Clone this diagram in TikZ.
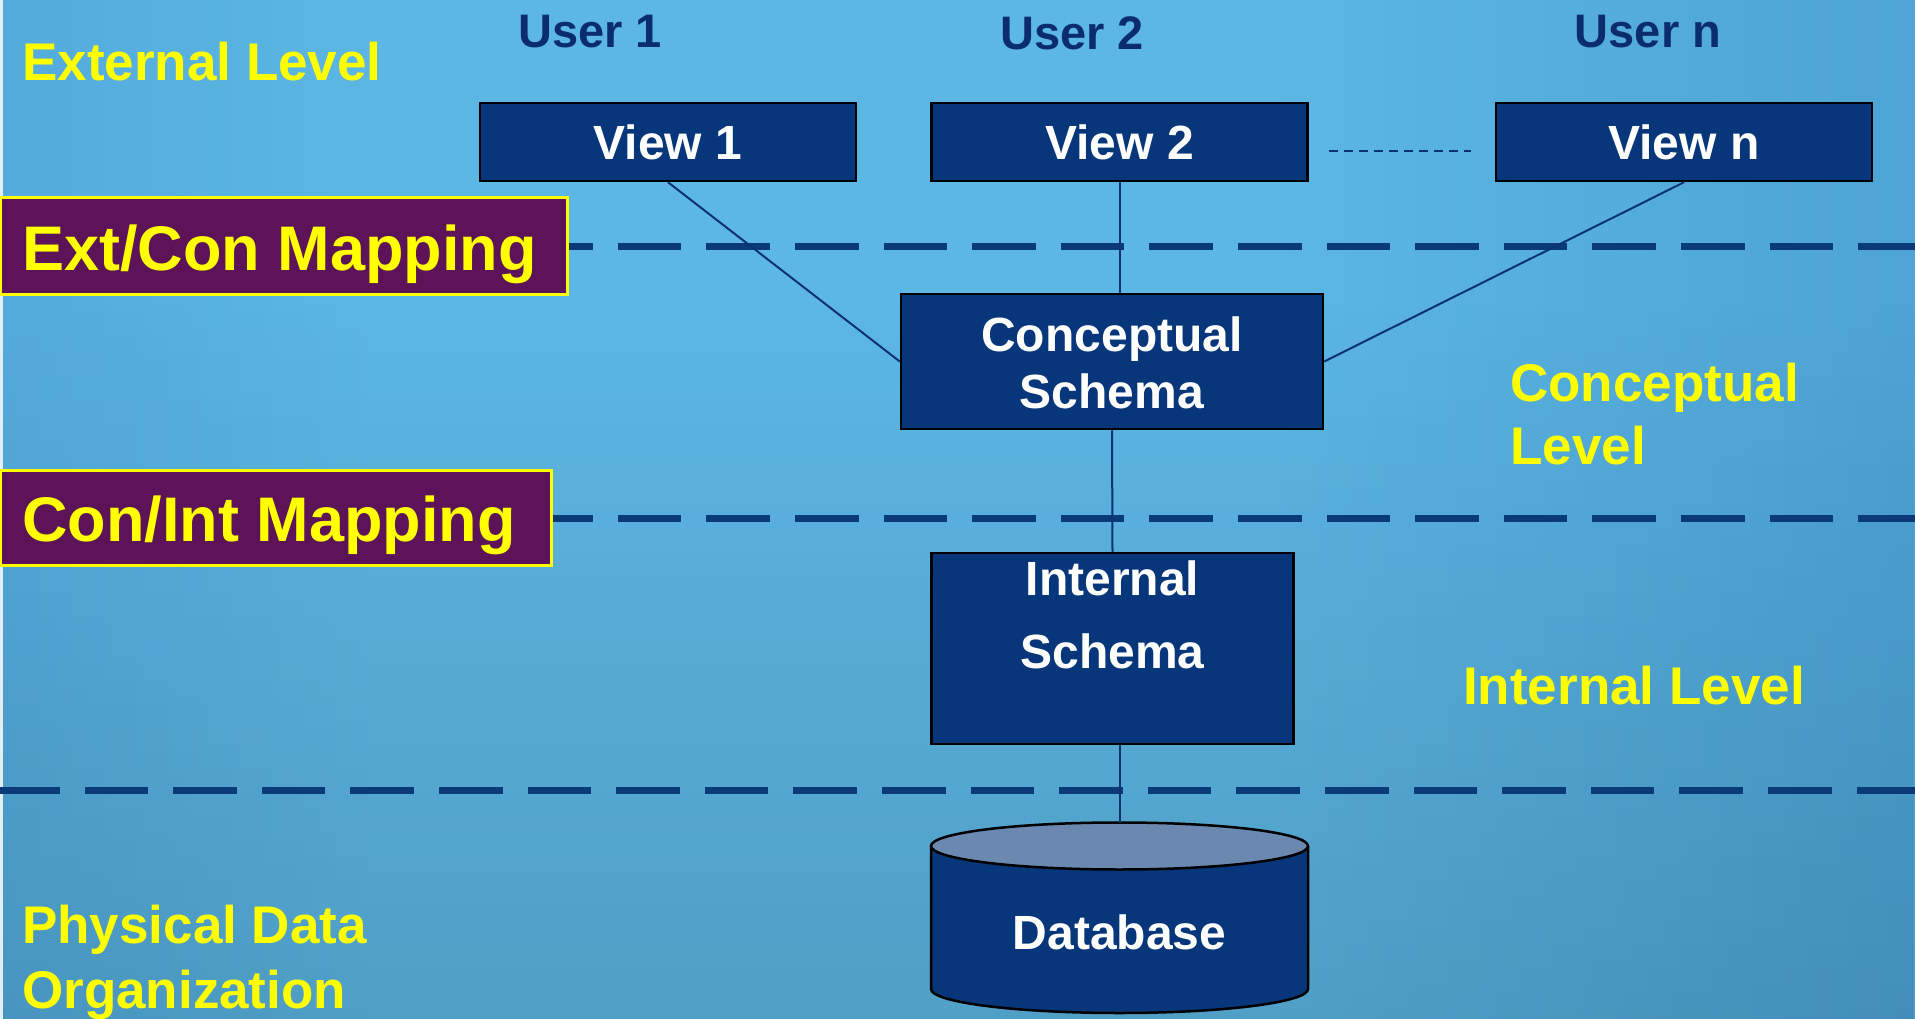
\documentclass[tikz,border=0pt]{standalone}
\usepackage{fontspec}
\setmainfont{Liberation Sans}
\usetikzlibrary{calc,fadings}
\definecolor{navy}{HTML}{08367A}
\definecolor{dashnavy}{HTML}{0A3A78}
\definecolor{linenavy}{HTML}{0B3273}
\definecolor{usercol}{HTML}{0B2D6B}
\definecolor{mapfill}{HTML}{5C1358}
\definecolor{ylw}{HTML}{FFFF00}
\definecolor{dbtopc}{HTML}{6A88B0}
\definecolor{bgL}{HTML}{3D8EC6}
\definecolor{bgM}{HTML}{5CB7E4}
\definecolor{bgR}{HTML}{3687BF}
\pgfdeclarehorizontalshading{bgsh}{100bp}{color(0bp)=(bgL); color(35bp)=(bgM); color(58bp)=(bgM); color(100bp)=(bgR)}
\begin{document}
\begin{tikzpicture}[x=1pt,y=-1pt,
  navybox/.style={draw=black, line width=2.5pt, fill=navy, inner sep=0pt},
  whitetxt/.style={text=white, inner sep=0pt, font=\fontsize{48}{56}\selectfont\bfseries},
  usertxt/.style={text=usercol, inner sep=0pt, font=\fontsize{47}{54}\selectfont\bfseries, anchor=base},
  yltxt/.style={text=ylw, inner sep=0pt, font=\fontsize{53}{63}\selectfont\bfseries, anchor=base west},
  mapbox/.style={draw=ylw, line width=3pt, fill=mapfill, inner sep=0pt},
  maptxt/.style={text=ylw, inner sep=0pt, font=\fontsize{63}{70}\selectfont\bfseries, anchor=base west},
  mapdash/.style={dashnavy, line width=7pt},
  conn/.style={linenavy, line width=2pt}]
\useasboundingbox (0,0) rectangle (1915,1019);
% background
\begin{scope}[y=1pt]
\shade[shading=bgsh] (0,-1019) rectangle (1915,0);
\fill[black, opacity=0.13, path fading=north] (0,-1019) rectangle (1915,-300);
\end{scope}
\fill[white!85!bgL] (0,0) rectangle (3,1019);

% level labels
\node[yltxt] (extlvl) at (22,81) {External Level};
\node[yltxt] (conlvl1) at (1510,401) {Conceptual};
\node[yltxt] (conlvl2) at (1510,464) {Level};
\node[yltxt] (intlvl) at (1463,704) {Internal Level};
\node[yltxt] (phys1) at (22,943) {Physical Data};
\node[yltxt] (phys2) at (22,1008) {Organization};

% users
\node[usertxt] (user1) at (590,48) {User 1};
\node[usertxt] (user2) at (1072,50) {User 2};
\node[usertxt] (usern) at (1648,48) {User n};

% mapping lines and boxes
\coordinate (r1) at (1915,247);
\coordinate (r2) at (1915,518);
\coordinate (l3) at (0,790);
\coordinate (r3) at (1915,790);
\node[mapbox, minimum width=567pt, minimum height=96pt] (mapec) at (283.5,246) {};
\node[mapbox, minimum width=551pt, minimum height=95pt] (mapci) at (275.5,517.5) {};
\draw[mapdash, dash pattern=on 63.6pt off 25pt, dash phase=39.4pt] (mapec.east |- r1) -- (r1);
\draw[mapdash, dash pattern=on 63.6pt off 25pt, dash phase=23.4pt] (mapci.east |- r2) -- (r2);
\draw[mapdash, dash pattern=on 63.6pt off 25pt, dash phase=4pt] (l3) -- (r3);
\node[maptxt] (mapectxt) at (22,270) {Ext/Con Mapping};
\node[maptxt] (mapcitxt) at (22,541) {Con/Int Mapping};

% views
\node[navybox, minimum width=376pt, minimum height=78pt] (view1) at (668,142) {};
\node[navybox, minimum width=376pt, minimum height=78pt] (view2) at (1119.5,142) {};
\node[navybox, minimum width=376pt, minimum height=78pt] (viewn) at (1684,142) {};
\node[whitetxt, anchor=base] (v1t) at (view1 |- 0,160) {View 1};
\node[whitetxt, anchor=base] (v2t) at (view2 |- 0,160) {View 2};
\node[whitetxt, anchor=base] (vnt) at (viewn |- 0,160) {View n};
\draw[linenavy, line width=2pt, dash pattern=on 9pt off 6pt] ($(view2.east)+(20,9)$) -- ($(viewn.west)+(-24,9)$);

% conceptual schema
\node[navybox, minimum width=422pt, minimum height=135pt] (concept) at (1112,361.5) {};
\node[whitetxt, anchor=base] (ct1) at (concept |- 0,351) {Conceptual};
\node[whitetxt, anchor=base] (ct2) at (concept |- 0,408) {Schema};

% internal schema
\node[navybox, minimum width=362pt, minimum height=191pt] (internal) at (1112.5,648.5) {};
\node[whitetxt, anchor=base] (it1) at (internal |- 0,595) {Internal};
\node[whitetxt, anchor=base] (it2) at (internal |- 0,668) {Schema};

% database cylinder
\coordinate (dbtop) at (1119.5,822.5);
\fill[navy] (1119.5,989) ellipse[x radius=188.5, y radius=24];
\fill[navy] (931,846) rectangle (1308,989);
\draw[black, line width=2.5pt] (931,846) -- (931,989) arc[start angle=180, end angle=0, x radius=188.5, y radius=24] -- (1308,846);
\filldraw[fill=dbtopc, draw=black, line width=2.5pt] (1119.5,846) ellipse[x radius=188.5, y radius=23.5];
\node[whitetxt, anchor=base] (db) at (1119.5,949) {Database};

% connectors
\draw[conn] (view1.south) -- (concept.west);
\draw[conn] (viewn.south) -- (concept.east);
\draw[conn] (view2.south) -- (view2.south |- concept.north);
\draw[conn] (concept.south) -- (internal.north);
\draw[conn] (dbtop |- internal.south) -- (dbtop);
\end{tikzpicture}
\end{document}
